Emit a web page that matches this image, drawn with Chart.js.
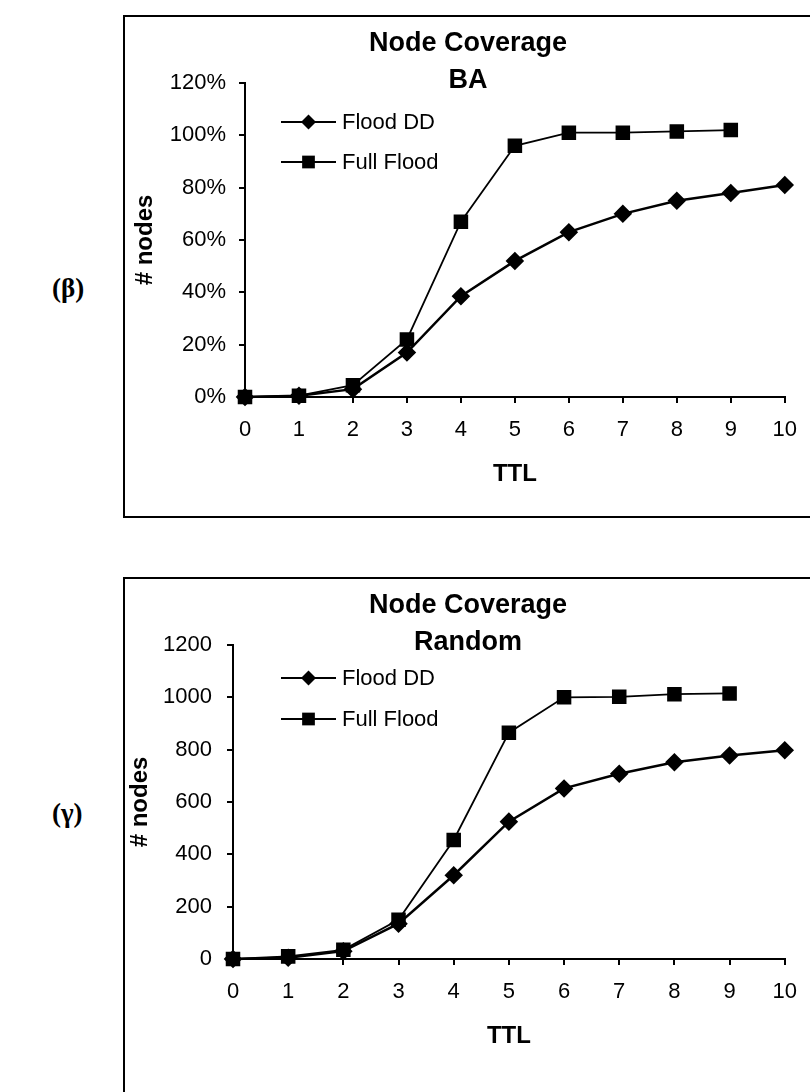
<!DOCTYPE html>
<html>
<head>
<meta charset="UTF-8">
<title>Node Coverage</title>
<script src="https://cdn.jsdelivr.net/npm/chart.js@4.4.1/dist/chart.umd.min.js"></script>
<style>
  body {
    margin: 0;
    width: 810px;
    height: 1092px;
    overflow: hidden;
    background: #fff;
    position: relative;
  }
  .box {
    position: absolute;
    left: 123px;
    width: 690px;
    border: 2px solid #000;
    box-sizing: border-box;
  }
  #boxBA { top: 15px; height: 503px; }
  #boxRandom { top: 577px; height: 560px; }
  .panel-label {
    position: absolute;
    left: 52px;
    font: bold 27px 'Liberation Serif', 'DejaVu Serif', serif;
    line-height: 32px;
    color: #000;
  }
</style>
</head>
<body>
<div class="panel-label" style="top:272px">(β)</div>
<div class="panel-label" style="top:797px">(γ)</div>
<div class="box" id="boxBA"><canvas id="chartBA" width="686" height="499"></canvas></div>
<div class="box" id="boxRandom"><canvas id="chartRandom" width="686" height="499"></canvas></div>
<script>
// data
const ttl = [0, 1, 2, 3, 4, 5, 6, 7, 8, 9, 10];
const seriesNames = ['Flood DD', 'Full Flood'];

// (β) BA topology, % of nodes reached
const baFloodDD   = [0, 0.5, 3, 17, 38.5, 52, 63, 70, 75, 78, 81];
const baFullFlood = [0, 0.5, 4.5, 22, 67, 96, 101, 101, 101.5, 102];
const baTicks = [0, 20, 40, 60, 80, 100, 120];

// (γ) Random topology, # nodes reached
const randFloodDD   = [0, 5, 30, 135, 320, 525, 652, 708, 752, 778, 798];
const randFullFlood = [0, 10, 35, 150, 455, 865, 1000, 1002, 1012, 1015];
const randTicks = [0, 200, 400, 600, 800, 1000, 1200];

const FAMILY = "'Liberation Sans', Arial, sans-serif";
const TICK_FONT = { family: FAMILY, size: 22 };
const AXIS_TITLE_FONT = { family: FAMILY, size: 24, weight: 'bold' };

function drawMarker(ctx, style, x, y, r) {
  ctx.beginPath();
  if (style === 'rectRot') {
    ctx.moveTo(x, y - r);
    ctx.lineTo(x + r, y);
    ctx.lineTo(x, y + r);
    ctx.lineTo(x - r, y);
  } else {
    const h = r * Math.SQRT1_2;
    ctx.rect(x - h, y - h, 2 * h, 2 * h);
  }
  ctx.closePath();
  ctx.fill();
}

// two-line title and the inset legend of the old Excel chart
const boxTextPlugin = {
  id: 'boxText',
  afterDraw(chart, args, opts) {
    const ctx = chart.ctx;
    ctx.save();
    ctx.fillStyle = '#000';
    ctx.textAlign = 'center';
    ctx.textBaseline = 'middle';
    ctx.font = 'bold 27px ' + FAMILY;
    opts.title.forEach((t, i) => ctx.fillText(t, chart.width / 2, opts.titleY[i]));

    ctx.font = '22px ' + FAMILY;
    ctx.textAlign = 'left';
    chart.data.datasets.forEach((ds, i) => {
      const y = opts.legendY[i];
      ctx.strokeStyle = '#000';
      ctx.lineWidth = 2;
      ctx.beginPath();
      ctx.moveTo(opts.legendX0, y);
      ctx.lineTo(opts.legendX1, y);
      ctx.stroke();
      drawMarker(ctx, ds.pointStyle, (opts.legendX0 + opts.legendX1) / 2, y, ds.pointRadius);
      ctx.fillText(ds.label, opts.legendX1 + 6, y + 1);
    });
    ctx.restore();
  }
};

function makeChart(id, title, dataA, dataB, ticks, suffix, lay) {
  const ctx = document.getElementById(id);
  return new Chart(ctx, {
    type: 'line',
    data: {
      labels: ttl,
      datasets: [{
        label: seriesNames[0],
        data: dataA,
        borderColor: '#000',
        backgroundColor: '#000',
        borderWidth: 2.5,
        pointStyle: 'rectRot',
        pointRadius: 7.5,
        clip: false,
      }, {
        label: seriesNames[1],
        data: dataB,
        borderColor: '#000',
        backgroundColor: '#000',
        borderWidth: 1.8,
        pointStyle: 'rect',
        pointRadius: 9,
        clip: false,
      }]
    },
    options: {
      responsive: false,
      animation: false,
      layout: { padding: { top: 66, right: 26, left: 0, bottom: 0 } },
      plugins: {
        legend: { display: false },
        title: { display: false },
        tooltip: { enabled: false },
        boxText: {
          title: title,
          titleY: [27, 64],
          legendX0: 156,
          legendX1: 211,
          legendY: lay.legendY,
        }
      },
      scales: {
        x: {
          type: 'category',
          offset: false,
          border: { display: true, color: '#000', width: 2 },
          grid: { drawOnChartArea: false, drawTicks: true, tickLength: 6, color: '#000', lineWidth: 2 },
          ticks: { color: '#000', font: TICK_FONT, padding: 14, maxRotation: 0, autoSkip: false },
          title: {
            display: true,
            text: 'TTL',
            color: '#000',
            font: AXIS_TITLE_FONT,
            padding: { top: 0, bottom: 27 }
          },
          afterFit: s => { s.height = 119; }
        },
        y: {
          min: ticks[0],
          max: ticks[ticks.length - 1],
          afterBuildTicks: s => { s.ticks = ticks.map(v => ({ value: v })); },
          border: { display: true, color: '#000', width: 2 },
          grid: { drawOnChartArea: false, drawTicks: true, tickLength: 6, color: '#000', lineWidth: 2 },
          ticks: { color: '#000', font: TICK_FONT, padding: lay.tickPad, callback: v => v + suffix },
          title: {
            display: true,
            text: '# nodes',
            color: '#000',
            font: AXIS_TITLE_FONT,
            padding: { top: lay.titlePad, bottom: 0 }
          },
          afterFit: s => { s.width = lay.yWidth; }
        }
      }
    },
    plugins: [boxTextPlugin]
  });
}

var chartBA = makeChart('chartBA', ['Node Coverage', 'BA'], baFloodDD, baFullFlood, baTicks, '%',
  { yWidth: 120, tickPad: 13, titlePad: 6, legendY: [105, 145] });
var chartRandom = makeChart('chartRandom', ['Node Coverage', 'Random'], randFloodDD, randFullFlood, randTicks, '',
  { yWidth: 108, tickPad: 15, titlePad: 1, legendY: [99, 140] });
</script>
</body>
</html>
